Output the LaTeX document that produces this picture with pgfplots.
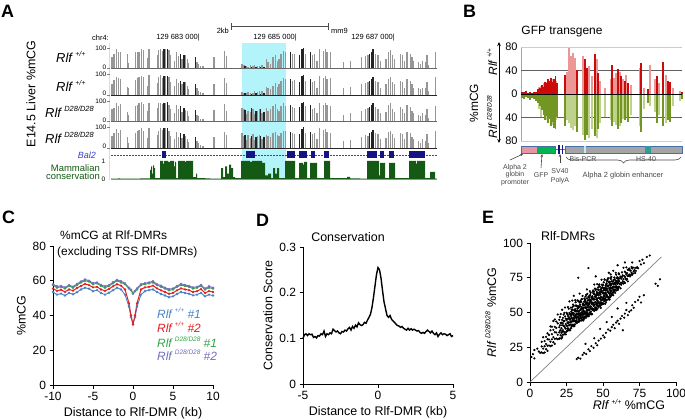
\documentclass[border=0pt]{standalone}
\usepackage{fontspec}
\setmainfont{Liberation Sans}
\usepackage{pgfplots}
\pgfplotsset{compat=1.18}
\usepackage{pgfplotstable}
\usetikzlibrary{arrows.meta,decorations.pathreplacing}
\pgfplotsset{/pgf/number format/assume math mode=true}
\definecolor{hl}{RGB}{178,244,250}
\definecolor{bargray}{RGB}{150,150,150}
\definecolor{bardark}{RGB}{35,35,35}
\definecolor{consgreen}{RGB}{20,90,20}
\definecolor{genenavy}{RGB}{20,20,130}
\definecolor{geneblue}{RGB}{60,60,200}
\definecolor{dred}{RGB}{205,10,10}
\definecolor{lred}{RGB}{236,150,150}
\definecolor{dolive}{RGB}{115,150,35}
\definecolor{lolive}{RGB}{190,210,140}
\definecolor{cblue}{RGB}{70,130,200}
\definecolor{cred}{RGB}{230,30,30}
\definecolor{cgreen}{RGB}{50,165,70}
\definecolor{cpurple}{RGB}{115,110,190}
\definecolor{outl}{RGB}{70,110,170}
\definecolor{boxpink}{RGB}{230,150,160}
\definecolor{boxgreen}{RGB}{0,180,80}
\definecolor{boxgray}{RGB}{165,165,165}
\definecolor{labgray}{RGB}{70,70,70}
\newcommand{\fs}[1]{\fontsize{#1}{#1}\selectfont}
\newcommand{\rlf}[2]{\textit{Rlf}\,\raisebox{0.45em}{\fs{#2}\textit{#1}}}

% Panel A: methylation tracks (x = position along locus, heights in %)
\pgfplotstableread{
x a b c d
112 54 50 60 55
114 69 72 65 70
116.3 92 85 88 90
118.7 77 80 75 72
120.3 80 75 82 85
127.3 69 40 45 50
128.7 28 35 30 25
135.7 77 70 75 72
137.3 80 82 78 80
139 77 85 90 88
141.3 95 90 92 94
143.7 89 88 85 80
147.3 49 45 50 48
149 92 95 90 93
157.3 62 58 65 60
158.7 89 85 88 80
160.7 92 94 90 95
162.3 85 80 82 88
165.3 92 90 88 95
169 89 85 80 82
170.7 62 60 58 55
174.7 38 45 40 42
176.3 77 75 80 78
178.7 58 55 60 52
182 46 50 45 48
185.3 62 60 55 58
187.3 46 42 48 45
188.7 28 30 25 28
197 31 35 30 33
198.7 23 20 25 22
200.7 12 15 10 12
203 12 10 14 11
214 54 50 55 52
224.7 85 80 82 78
226.7 58 55 52 60
242 23 12 66 70
244 15 8 58 55
246.3 12 10 35 40
248 9 12 51 60
250.7 15 8 43 48
253 12 10 58 65
254.7 15 18 35 38
257.3 11 15 51 55
259.7 12 18 58 60
262 15 20 40 45
266.3 43 40 66 62
268 31 35 51 55
270.7 23 28 58 52
273 54 45 74 70
275.3 62 55 82 78
277.3 34 38 58 60
279 46 50 50 55
281 69 65 72 70
283.7 85 80 88 82
285.3 80 78 75 80
292.7 69 65 70 72
294.7 69 72 65 68
305.3 69 65 72 70
312.7 62 60 58 65
314.7 69 65 62 70
317 38 35 40 42
319.3 95 92 90 94
323.7 85 82 80 85
325.3 92 90 88 90
327 77 75 80 78
330.3 77 80 75 72
343.7 31 35 30 33
350.3 38 40 42 36
361.3 54 50 48 52
365.3 58 55 60 62
368 62 60 65 58
375.3 69 65 70 72
378 62 60 58 65
380.3 38 35 40 42
386 46 50 45 48
388.7 77 75 80 78
390.3 89 85 88 82
392.7 62 60 58 65
394.7 46 50 45 48
400.3 69 65 70 72
402.7 62 60 58 65
404.7 38 35 40 42
407 77 75 80 78
410.3 69 65 70 72
412 54 50 48 52
413.7 38 35 40 42
418.7 31 35 30 33
420.3 23 28 25 22
422.7 38 35 40 42
425.3 31 35 30 33
427 62 60 58 65
428.7 15 20 18 22
435.3 77 85 75 80
}\tabA
\pgfplotstableread{
x a b c d
164 95 92 90 95
167.3 95 90 92 94
180.7 69 65 72 70
184 65 60 62 68
195.3 54 50 55 52
245 10 8 55 60
251.5 8 6 62 58
256 6 9 48 52
260.5 9 7 60 55
264 7 10 45 50
290.3 77 75 80 78
299.3 65 62 68 66
302 92 90 88 92
303.7 98 96 95 100
310.3 77 75 80 78
369.7 69 65 70 72
371.3 77 75 80 78
373 92 88 90 85
}\tabAd
\pgfplotstableread{
x y
111 0.02
118 0.04
120 0.02
140 0.03
150 0.5
151 0.7
152 0.3
153 0.75
154 0.6
155 0.05
160 1.0
163 0.85
164 1.0
168 0.95
170 1.0
174 0.7
175 0.95
176 0.05
178 1.0
185 0.95
186 1.0
193 0.1
196 0.3
197 0.05
205 0.04
210 0.02
221 0.6
223 0.1
225 0.7
227 0.3
229 0.8
231 0.6
233 0.1
235 0.05
241 1.0
250 0.95
252 1.0
262 0.9
265 0.2
268 0.3
271 0.05
273 0.6
275 0.3
277 0.6
279 0.05
285 1.0
295 0.05
299 0.9
303 0.8
304 0.95
307 0.05
310 0.9
317 0.05
324 1.0
330 0.05
347 0.12
350 0.03
360 0.02
367 1.0
379 0.2
380 0.9
385 0.05
389 0.9
395 0.05
409 1.0
416 0.85
417 1.0
425 0.05
430 0.4
435 0.02
437 0.02
}\tabCons

% Panel B
\pgfplotstableread{
x u d
522 4 -6
524 3 -8
526 5 -5
528 2 -7
530 3 -10
532 2 -6
534 4 -9
536 3 -12
538 8 -15
540 10 -20
542 15 -28
543.5 12 -35
545 20 -45
546.5 18 -38
548 25 -50
549.5 22 -42
551 28 -55
552.5 20 -48
554 25 -58
555.5 30 -60
557 18 -40
565 33 -55
577 40 -65
585 60 -78
587 45 -70
595 68 -72
598 35 -60
612 50 -55
618 42 -60
621 30 -50
625 22 -45
628 18 -48
641 52 -65
648 8 -15
657 30 -50
663 55 -55
668 22 -45
670 20 -48
682 3 -8
}\tabBd
\pgfplotstableread{
x u d
539 12 -25
541 14 -40
544 18 -30
547 20 -45
550 15 -35
553 26 -52
556 22 -45
567 38 -45
569 78 -50
571 65 -58
573 70 -62
575 62 -55
583 65 -70
589 48 -75
592 30 -60
597 60 -75
600 22 -50
605 10 -40
611 25 -45
614 28 -48
616 35 -52
620 38 -55
623 25 -42
626 32 -40
631 15 -35
640 45 -55
644 10 -25
650 50 -20
655 25 -30
659 18 -35
666 32 -50
673 10 -20
680 5 -12
}\tabBl

% Panel C
\pgfplotstableread{
x g p r b
-10 57.5 58.0 55.5 53.5
-9.5 56.0 56.8 54.2 52.0
-9 56.5 57.0 54.8 52.6
-8.5 55.5 56.2 53.6 51.5
-8 57.0 57.5 55.0 53.0
-7.5 56.0 56.6 54.3 52.2
-7 57.5 58.2 55.8 53.4
-6.5 59.0 59.6 57.0 55.0
-6 60.0 60.8 58.2 56.0
-5.5 59.5 60.0 57.5 55.4
-5 58.0 58.7 56.2 54.0
-4.5 58.5 59.0 56.5 54.6
-4 57.0 57.6 55.0 53.0
-3.5 56.0 56.8 54.2 52.0
-3 57.0 57.5 55.3 53.1
-2.5 58.5 59.2 56.8 54.5
-2 60.0 60.5 58.0 56.0
-1.5 59.0 59.8 57.2 55.0
-1 58.0 58.5 55.0 52.0
-0.5 55.5 56.0 47.0 45.0
-0.25 54.5 54.8 40.0 39.0
0 53.0 52.5 35.0 35.0
0.25 54.0 54.2 40.0 39.0
0.5 55.0 55.6 47.0 45.0
1 57.5 58.0 55.0 52.0
1.5 58.0 58.6 56.2 54.0
2 58.5 59.0 56.5 54.6
2.5 59.0 59.8 57.2 55.0
3 57.5 58.0 55.6 53.5
3.5 56.5 57.2 54.5 52.4
4 55.5 56.0 53.5 51.5
4.5 54.5 55.2 52.5 50.5
5 55.0 55.5 53.0 51.0
5.5 56.5 57.0 54.5 52.4
6 57.5 58.2 55.6 53.5
6.5 57.0 57.6 55.0 53.0
7 56.5 57.0 54.6 52.5
7.5 55.5 56.2 53.5 51.6
8 56.0 56.5 54.0 52.0
8.5 57.0 57.6 55.2 53.0
9 55.0 55.5 53.0 51.0
9.5 56.0 56.8 54.0 52.0
10 55.5 56.0 53.5 51.5
}\tabC

% Panel D
\pgfplotstableread{
x y
-5.0 0.100
-4.9 0.108
-4.8 0.110
-4.7 0.106
-4.6 0.110
-4.5 0.108
-4.4 0.109
-4.3 0.102
-4.2 0.104
-4.1 0.101
-4.0 0.106
-3.9 0.105
-3.8 0.110
-3.7 0.108
-3.6 0.116
-3.5 0.104
-3.4 0.110
-3.3 0.108
-3.2 0.112
-3.1 0.110
-3.0 0.120
-2.9 0.117
-2.8 0.114
-2.7 0.116
-2.6 0.112
-2.5 0.110
-2.4 0.115
-2.3 0.114
-2.2 0.118
-2.1 0.116
-2.0 0.121
-1.9 0.124
-1.8 0.118
-1.7 0.126
-1.6 0.122
-1.5 0.129
-1.4 0.125
-1.3 0.134
-1.2 0.130
-1.1 0.128
-1.0 0.130
-0.9 0.135
-0.8 0.133
-0.7 0.140
-0.6 0.146
-0.5 0.153
-0.4 0.168
-0.3 0.190
-0.2 0.215
-0.1 0.240
0.0 0.255
0.1 0.250
0.2 0.232
0.3 0.205
0.4 0.180
0.5 0.165
0.6 0.150
0.7 0.146
0.8 0.150
0.9 0.142
1.0 0.138
1.1 0.135
1.2 0.131
1.3 0.128
1.4 0.127
1.5 0.124
1.6 0.126
1.7 0.122
1.8 0.120
1.9 0.118
2.0 0.122
2.1 0.118
2.2 0.121
2.3 0.118
2.4 0.120
2.5 0.118
2.6 0.116
2.7 0.117
2.8 0.113
2.9 0.111
3.0 0.113
3.1 0.111
3.2 0.115
3.3 0.118
3.4 0.115
3.5 0.112
3.6 0.116
3.7 0.111
3.8 0.108
3.9 0.112
4.0 0.104
4.1 0.109
4.2 0.112
4.3 0.108
4.4 0.110
4.5 0.109
4.6 0.106
4.7 0.108
4.8 0.110
4.9 0.104
5.0 0.106
}\tabD

\pgfplotsset{
 trk/.style={anchor=south west, scale only axis, width=326bp, height=21bp,
   xmin=111, xmax=437, ymin=0, ymax=100, hide axis, clip=false},
 panel/.style={anchor=south west, scale only axis, axis x line*=bottom, axis y line*=left,
   axis line style={line width=1bp, black}, tick align=outside, major tick length=3.5bp,
   tick style={black, line width=0.8bp}, tick label style={font=\fs{12}},
   label style={font=\fs{12.5}}, clip=false}
}

\begin{document}
\begin{tikzpicture}[x=1bp,y=1bp]
\useasboundingbox (0,0) rectangle (685,419);

%================ Panel A =================
\fill[hl] (242,239) rectangle (286,376);
\draw[red!20, line width=0.6bp] (109,239) -- (109,376);
\node[anchor=west, inner sep=0, font=\fs{18}\bfseries] at (1,407.5) {A};
% scale bar + coordinates
\node[anchor=east, inner sep=1bp, font=\fs{7.5}] at (230,388) {2kb};
\draw[black!70, line width=0.6bp] (231,393) -- (328,393);
\draw[black!70, line width=0.6bp] (231,389) -- (231,396);
\draw[black!70, line width=0.6bp] (328,389) -- (328,396);
\node[anchor=west, inner sep=1bp, font=\fs{7.5}] at (330,388) {mm9};
\node[anchor=west, inner sep=0, font=\fs{7.5}] at (92,381) {chr4:};
\node[anchor=east, inner sep=0, font=\fs{7.5}] at (200,381) {129 683 000|};
\node[anchor=east, inner sep=0, font=\fs{7.5}] at (297,381) {129 685 000|};
\node[anchor=east, inner sep=0, font=\fs{7.5}] at (395,381) {129 687 000|};
\node[rotate=90, font=\fs{12.5}] at (31,325) {E14.5 Liver \%mCG};
% track labels
\node[anchor=west, inner sep=0, font=\fs{13}] at (56,362) {\rlf{+/+}{7}};
\node[anchor=west, inner sep=0, font=\fs{13}] at (56,333) {\rlf{+/+}{7}};
\node[anchor=west, inner sep=0, font=\fs{13}] at (45,307) {\rlf{D28/D28}{7.5}};
\node[anchor=west, inner sep=0, font=\fs{13}] at (45,281) {\rlf{D28/D28}{7.5}};
% tick labels of tracks
\foreach \b in {350.5,324,297.5,271}{
  \draw[black!50, line width=0.5bp] (107,\b) -- (110,\b);
  \draw[black!50, line width=0.5bp] (107,\b+20.5) -- (110,\b+20.5);
  \node[anchor=east, inner sep=0.5bp, font=\fs{6.5}] at (107,\b+1.5) {0};
  \node[anchor=east, inner sep=0.5bp, font=\fs{6.5}] at (107,\b+20.5) {100};
}
\begin{axis}[trk, at={(111bp,350.5bp)}]
\addplot[ycomb, draw=bargray, line width=1.1bp] table[x=x,y=a] \tabA;
\addplot[ycomb, draw=bardark, line width=1.1bp] table[x=x,y=a] \tabAd;
\end{axis}
\begin{axis}[trk, at={(111bp,324bp)}]
\addplot[ycomb, draw=bargray, line width=1.1bp] table[x=x,y=b] \tabA;
\addplot[ycomb, draw=bardark, line width=1.1bp] table[x=x,y=b] \tabAd;
\end{axis}
\begin{axis}[trk, at={(111bp,297.5bp)}]
\addplot[ycomb, draw=bargray, line width=1.1bp] table[x=x,y=c] \tabA;
\addplot[ycomb, draw=bardark, line width=1.1bp] table[x=x,y=c] \tabAd;
\end{axis}
\begin{axis}[trk, at={(111bp,271bp)}]
\addplot[ycomb, draw=bargray, line width=1.1bp] table[x=x,y=d] \tabA;
\addplot[ycomb, draw=bardark, line width=1.1bp] table[x=x,y=d] \tabAd;
\end{axis}
\draw[black!60, line width=0.8bp] (111,350.5) -- (437,350.5);
\draw[black!85, line width=0.8bp] (111,324) -- (437,324);
\draw[black!60, line width=0.8bp] (111,297.5) -- (437,297.5);
\draw[black!85, line width=0.8bp] (111,271) -- (437,271);
% gene model
\node[anchor=east, inner sep=0, font=\fs{9}\itshape, text=geneblue] at (96,264) {Bal2};
\draw[geneblue, line width=0.6bp, dash pattern=on 2bp off 1bp] (111,264) -- (437,264);
\foreach \s/\e in {162/166,246/255,287/295,299/307,311/315,324/329,367/377,380/384,389/394,409/425}{
  \fill[genenavy] (\s,261) rectangle (\e,268);
}
% conservation
\node[anchor=east, align=right, inner sep=0, font=\fs{9.5}, text=consgreen] at (100,246.5) {Mammalian\\[-1.5bp]conservation};
\node[anchor=east, inner sep=0.5bp, font=\fs{6.5}] at (106,258) {1};
\node[anchor=east, inner sep=0.5bp, font=\fs{6.5}] at (106,240) {0};
\begin{axis}[trk, at={(111bp,240bp)}, height=18bp, ymax=1]
\addplot[fill=consgreen, draw=none, const plot] table[x=x,y=y] \tabCons \closedcycle;
\end{axis}
\draw[green!50!black!60, line width=0.5bp] (111,240) -- (437,240);

%================ Panel B =================
\node[anchor=west, inner sep=0, font=\fs{18}\bfseries] at (463,407.5) {B};
\node[font=\fs{12}] at (562,387) {GFP transgene};
\node[rotate=90, font=\fs{12}] at (474,316) {\%mCG};
\node[rotate=90, font=\fs{12}] at (492,357) {\rlf{+/+}{6.5}};
\node[rotate=90, font=\fs{12}] at (492,302) {\rlf{D28/D28}{6.5}};
\draw[{Stealth[length=4bp,width=3.5bp]}-{Stealth[length=4bp,width=3.5bp]}, line width=0.8bp] (499,276) -- (499,377);
\begin{axis}[at={(521bp,278bp)}, anchor=south west, scale only axis, width=161bp, height=94bp,
  xmin=521, xmax=682, ymin=-80, ymax=80, axis x line=none, axis y line*=left,
  y axis line style={draw=gray!70}, ytick={-80,-40,0,40,80}, yticklabels={80,40,0,40,80},
  major tick length=0pt, tick label style={font=\fs{11}}, clip=false]
\draw[gray!40, line width=0.8bp] (axis cs:521,80) -- (axis cs:682,80);
\draw[gray!40, line width=0.8bp] (axis cs:521,-80) -- (axis cs:682,-80);
\draw[gray!75!black, line width=0.8bp] (axis cs:521,40) -- (axis cs:682,40);
\draw[gray!75!black, line width=0.8bp] (axis cs:521,-40) -- (axis cs:682,-40);
\addplot[ycomb, draw=lred, line width=1.1bp] table[x=x,y=u] \tabBl;
\addplot[ycomb, draw=lolive, line width=1.1bp] table[x=x,y=d] \tabBl;
\addplot[ycomb, draw=dred, line width=1.1bp] table[x=x,y=u] \tabBd;
\addplot[ycomb, draw=dolive, line width=1.1bp] table[x=x,y=d] \tabBd;
\draw[black, line width=0.9bp] (axis cs:521,0) -- (axis cs:682,0);
\end{axis}
% construct
\fill[boxpink] (521,266) rectangle (537,273);
\fill[boxgreen] (537,266) rectangle (555,273);
\fill[boxgray] (565,266) rectangle (682,273);
\draw[outl, line width=0.7bp] (521,266) rectangle (555,273);
\draw[outl, line width=0.7bp] (565,266) rectangle (682,273);
\draw[outl, line width=1bp] (555,269.5) -- (565,269.5);
\fill[genenavy] (558,265) rectangle (559.5,274);
\fill[genenavy] (561.5,265) rectangle (563,274);
\fill[cyan!25] (583.5,266.4) rectangle (585.5,272.6);
\fill[teal!80] (645,266.4) rectangle (650.5,272.6);
\node[font=\fs{7}, text=labgray] at (583,260) {Bis-PCR};
\node[font=\fs{7}, text=labgray] at (646,260) {HS-40};
\draw[labgray, line width=0.6bp, decorate, decoration={brace, mirror, amplitude=6bp}] (566,262) -- (681,262);
\node[font=\fs{7.5}, text=labgray] at (623,243) {Alpha 2 globin enhancer};
\node[font=\fs{7}, text=labgray, align=center, inner sep=0] at (515,244) {Alpha 2\\[0.5bp]globin\\[0.5bp]promoter};
\node[font=\fs{7}, text=labgray, inner sep=0] at (541,244) {GFP};
\node[font=\fs{7}, text=labgray, align=center, inner sep=0] at (560,243) {SV40\\[2bp]PolyA};
\draw[labgray, line width=0.6bp, -{Stealth[length=3bp,width=2.5bp]}] (510,259) -- (523,265);
\draw[labgray, line width=0.6bp, -{Stealth[length=3bp,width=2.5bp]}] (541,251) -- (542,265);
\draw[labgray, line width=0.6bp, -{Stealth[length=3bp,width=2.5bp]}] (560,256) -- (560,265);

%================ Panel C =================
\node[anchor=west, inner sep=0, font=\fs{18}\bfseries] at (2,201.5) {C};
\node[anchor=west, inner sep=0, font=\fs{12}] at (60,184) {\%mCG at Rlf-DMRs};
\node[anchor=west, inner sep=0, font=\fs{12}] at (57,167) {(excluding TSS Rlf-DMRs)};
\begin{axis}[panel, at={(53bp,34bp)}, width=160bp, height=139bp,
  xmin=-10, xmax=10, ymin=0, ymax=80, xtick={-10,-5,0,5,10}, ytick={0,20,40,60,80},
  xlabel={Distance to Rlf-DMR (kb)}, ylabel={\%mCG}]
\addplot[cblue, line width=0.9bp, mark=*, mark size=0.7bp] table[x=x,y=b] \tabC;
\addplot[cgreen, line width=0.9bp, mark=*, mark size=0.7bp] table[x=x,y=g] \tabC;
\addplot[cpurple, line width=0.9bp, mark=*, mark size=0.7bp] table[x=x,y=p] \tabC;
\addplot[cred, line width=1bp, mark=*, mark size=0.6bp] table[x=x,y=r] \tabC;
\end{axis}
\node[anchor=west, inner sep=0, font=\fs{12}, text=cblue] at (157,106) {\rlf{+/+}{6.5} \textit{\#1}};
\node[anchor=west, inner sep=0, font=\fs{12}, text=cred] at (157,92) {\rlf{+/+}{6.5} \textit{\#2}};
\node[anchor=west, inner sep=0, font=\fs{12}, text=cgreen] at (157,77) {\rlf{D28/D28}{6.5} \textit{\#1}};
\node[anchor=west, inner sep=0, font=\fs{12}, text=cpurple] at (157,64) {\rlf{D28/D28}{6.5} \textit{\#2}};

%================ Panel D =================
\node[anchor=west, inner sep=0, font=\fs{18}\bfseries] at (256,199) {D};
\node[font=\fs{12.5}] at (348,182) {Conservation};
\begin{axis}[panel, at={(303bp,35bp)}, width=150bp, height=137bp,
  xmin=-5, xmax=5, ymin=0, ymax=0.3, xtick={-5,0,5}, ytick={0,0.1,0.2,0.3},
  yticklabel style={/pgf/number format/fixed},
  xlabel={Distance to Rlf-DMR (kb)}, ylabel={Conservation Score}]
\addplot[black, line width=1.4bp] table[x=x,y=y] \tabD;
\end{axis}

%================ Panel E =================
\node[anchor=west, inner sep=0, font=\fs{18}\bfseries] at (482,201.5) {E};
\node[font=\fs{12.5}] at (568,183) {Rlf-DMRs};
\begin{axis}[panel, at={(530bp,37bp)}, width=146bp, height=139bp,
  xmin=0, xmax=100, ymin=0, ymax=100, xtick={0,25,50,75,100}, ytick={0,25,50,75,100},
  xlabel={\rlf{+/+}{7}\ \%mCG}, xlabel style={xshift=26bp, yshift=5bp},
  ylabel={\rlf{D28/D28}{7}\ \%mCG}]
\addplot[gray, line width=0.7bp] coordinates {(0,0) (90,90)};
\addplot[only marks, mark=*, mark size=0.9bp, black] coordinates {
(1,18)(2,20)(3,23)(3,17)(5,24)(6,22)(7,21)(12,35)(14,40)(17,45)(22,52)(27,58)(30,62)(33,75)(40,82)(45,76)(57,80)(60,84)(65,86)(70,86)(75,87)(77,88)(80,90)(82,91)
(8,21.3)(8,25.6)(8,28.9)(9,20.8)(9,24.0)(9,32.2)(10,21.2)(10,25.7)(10,29.4)(11,23.6)(11,27.3)(11,32.5)
(12,22.4)(12,26.1)(12,30.8)(13,26.3)(13,30.6)(13,33.9)(14,25.8)(14,29.0)(14,37.2)
(15,26.2)(15,30.7)(15,34.4)(15,39.8)(16,28.6)(16,32.3)(16,37.5)(16,43.9)(17,27.4)(17,31.1)(17,35.8)(17,39.7)
(18,31.3)(18,35.6)(18,38.9)(18,43.5)(19,30.8)(19,34.0)(19,42.2)(19,48.6)(20,31.2)(20,35.7)(20,39.4)(20,44.8)
(21,33.6)(21,37.3)(21,42.5)(21,48.9)(22,32.4)(22,36.1)(22,40.8)(22,44.7)(23,36.3)(23,40.6)(23,43.9)(23,48.5)
(24,35.8)(24,39.0)(24,47.2)(24,53.6)(25,36.2)(25,40.7)(25,44.4)(25,49.8)(26,38.6)(26,42.3)(26,47.5)(26,53.9)
(27,37.4)(27,41.1)(27,45.8)(27,49.7)(28,41.3)(28,45.6)(28,48.9)(28,53.5)(29,40.8)(29,44.0)(29,52.2)(29,58.6)
(30,41.2)(30,45.7)(30,49.4)(30,54.8)(31,43.6)(31,47.3)(31,52.5)(31,58.9)(32,42.4)(32,46.1)(32,50.8)(32,54.7)
(33,46.3)(33,50.6)(33,53.9)(33,58.5)(34,45.8)(34,49.0)(34,57.2)(34,63.6)(35,44.2)(35,48.7)(35,52.4)(35,57.8)
(36,46.6)(36,50.3)(36,55.5)(36,61.9)(37,45.4)(37,49.1)(37,53.8)(37,57.7)(38,49.3)(38,53.6)(38,56.9)(38,61.5)
(39,48.8)(39,52.0)(39,60.2)(39,66.6)(40,47.7)(40,52.2)(40,55.9)(40,61.3)(41,50.1)(41,53.8)(41,59.0)(41,65.4)
(42,48.9)(42,52.6)(42,57.3)(42,61.2)(43,52.8)(43,57.1)(43,60.4)(43,65.0)(44,52.3)(44,55.5)(44,63.7)(44,70.1)
(45,52.7)(45,57.2)(45,60.9)(45,66.3)(46,55.1)(46,58.8)(46,64.0)(46,70.4)(47,53.9)(47,57.6)(47,62.3)(47,66.2)
(48,56.3)(48,60.6)(48,63.9)(48,68.5)(49,55.8)(49,59.0)(49,67.2)(49,73.6)(50,56.2)(50,60.7)(50,64.4)(50,69.8)
(51,58.6)(51,62.3)(51,67.5)(51,73.9)(52,57.4)(52,61.1)(52,65.8)(52,69.7)(53,61.3)(53,65.6)(53,68.9)(53,73.5)
(54,60.8)(54,64.0)(54,72.2)(54,78.6)(55,61.2)(55,65.7)(55,69.4)(55,74.8)(56,63.6)(56,67.3)(56,72.5)
(57,62.4)(57,66.1)(57,70.8)(58,66.3)(58,70.6)(58,73.9)(59,65.8)(59,69.0)(59,77.2)(60,66.2)(60,70.7)(60,74.4)
(61,68.6)(61,72.3)(61,77.5)(62,67.4)(62,71.1)(62,75.8)(63,71.3)(63,75.6)(63,78.9)(64,70.8)(64,74.0)(64,82.2)
(65,71.2)(65,75.7)(65,79.4)(66,73.6)(66,77.3)(66,82.5)(67,72.4)(67,76.1)(67,80.8)(68,77.3)(68,81.6)
(69,76.8)(69,80.0)(70,77.2)(70,81.7)(71,79.6)(72,78.4)(72,82.1)(73,82.3)(74,81.8)(76,84.6)(78,85.5)
(20.5,31.4)(20.5,36.9)(20.5,40.8)(20.5,46.7)(21.5,31.3)(21.5,35.4)(21.5,38.7)(21.5,42.6)
(22.5,34.0)(22.5,37.3)(22.5,42.4)(22.5,46.1)(23.5,34.4)(23.5,39.9)(23.5,43.8)(23.5,49.7)
(24.5,34.3)(24.5,38.4)(24.5,41.7)(24.5,45.6)(25.5,37.0)(25.5,40.3)(25.5,45.4)(25.5,49.1)
(26.5,37.4)(26.5,42.9)(26.5,46.8)(26.5,52.7)(27.5,37.3)(27.5,41.4)(27.5,44.7)(27.5,48.6)
(28.5,40.0)(28.5,43.3)(28.5,48.4)(28.5,52.1)(29.5,40.4)(29.5,45.9)(29.5,49.8)(29.5,55.7)
(30.5,40.3)(30.5,44.4)(30.5,47.7)(30.5,51.6)(31.5,43.0)(31.5,46.3)(31.5,51.4)(31.5,55.1)
(32.5,43.4)(32.5,48.9)(32.5,52.8)(32.5,58.7)(33.5,43.3)(33.5,47.4)(33.5,50.7)(33.5,54.6)
(34.5,46.0)(34.5,49.3)(34.5,54.4)(34.5,58.1)(35.5,44.4)(35.5,49.9)(35.5,53.8)(35.5,59.7)
(36.5,44.3)(36.5,48.4)(36.5,51.7)(36.5,55.6)(37.5,47.0)(37.5,50.3)(37.5,55.4)(37.5,59.1)
(38.5,47.4)(38.5,52.9)(38.5,56.8)(38.5,62.7)(39.5,47.3)(39.5,51.4)(39.5,54.7)(39.5,58.6)
(40.5,48.5)(40.5,51.8)(40.5,56.9)(40.5,60.6)(41.5,48.9)(41.5,54.4)(41.5,58.3)(41.5,64.2)
(42.5,48.8)(42.5,52.9)(42.5,56.2)(42.5,60.1)(43.5,51.5)(43.5,54.8)(43.5,59.9)(43.5,63.6)
(44.5,51.9)(44.5,57.4)(44.5,61.3)(44.5,67.2)(45.5,51.8)(45.5,55.9)(45.5,59.2)(45.5,63.1)
(46.5,54.5)(46.5,57.8)(46.5,62.9)(46.5,66.6)(47.5,54.9)(47.5,60.4)(47.5,64.3)(47.5,70.2)
(48.5,53.3)(48.5,57.4)(48.5,60.7)(48.5,64.6)(49.5,56.0)(49.5,59.3)(49.5,64.4)(49.5,68.1)
(50.5,56.4)(50.5,61.9)(50.5,65.8)(50.5,71.7)(51.5,56.3)(51.5,60.4)(51.5,63.7)(51.5,67.6)
(52.5,59.0)(52.5,62.3)(52.5,67.4)(52.5,71.1)(53.5,59.4)(53.5,64.9)(53.5,68.8)(53.5,74.7)
(54.5,59.3)(54.5,63.4)(54.5,66.7)(54.5,70.6)(55.5,62.0)(55.5,65.3)(55.5,70.4)(55.5,74.1)
(28.25,38.8)(28.25,43.2)(28.25,46.9)(28.25,50.5)(29.25,41.0)(29.25,44.7)(29.25,49.4)(29.25,54.1)
(30.25,40.2)(30.25,43.9)(30.25,47.6)(30.25,51.7)(31.25,43.9)(31.25,48.0)(31.25,50.8)(31.25,57.4)
(32.25,42.8)(32.25,47.2)(32.25,50.9)(32.25,54.5)(33.25,45.0)(33.25,48.7)(33.25,53.4)(33.25,58.1)
(34.25,44.2)(34.25,47.9)(34.25,51.6)(34.25,55.7)(35.25,45.9)(35.25,50.0)(35.25,52.8)(35.25,59.4)
(36.25,44.8)(36.25,49.2)(36.25,52.9)(36.25,56.5)(37.25,47.0)(37.25,50.7)(37.25,55.4)(37.25,60.1)
(38.25,46.2)(38.25,49.9)(38.25,53.6)(38.25,57.7)(39.25,49.9)(39.25,54.0)(39.25,56.8)(39.25,63.4)
(40.25,47.3)(40.25,51.7)(40.25,55.4)(40.25,59.0)(41.25,49.5)(41.25,53.2)(41.25,57.9)(41.25,62.6)
(42.25,48.7)(42.25,52.4)(42.25,56.1)(42.25,60.2)(43.25,52.4)(43.25,56.5)(43.25,59.3)(43.25,65.9)
(44.25,51.3)(44.25,55.7)(44.25,59.4)(44.25,63.0)(45.25,53.5)(45.25,57.2)(45.25,61.9)(45.25,66.6)
(46.25,52.7)(46.25,56.4)(46.25,60.1)(46.25,64.2)(47.25,56.4)(47.25,60.5)(47.25,63.3)(47.25,69.9)
(48.25,54.8)(48.25,59.2)(48.25,62.9)(48.25,66.5)(49.25,57.0)(49.25,60.7)(49.25,65.4)(49.25,70.1)
(50.25,56.2)(50.25,59.9)(50.25,63.6)(50.25,67.7)(51.25,59.9)(51.25,64.0)(51.25,66.8)(51.25,73.4)
(52.25,58.8)(52.25,63.2)(52.25,66.9)(52.25,70.5)(53.25,61.0)(53.25,64.7)(53.25,69.4)(53.25,74.1)
(54.25,60.2)(54.25,63.9)(54.25,67.6)(54.25,71.7)(55.25,63.9)(55.25,68.0)(55.25,70.8)(55.25,77.4)
(56.25,62.8)(56.25,67.2)(56.25,70.9)(57.25,65.0)(57.25,68.7)(57.25,73.4)(58.25,64.2)(58.25,67.9)(58.25,71.6)
(59.25,67.9)(59.25,72.0)(59.25,74.8)(60.25,66.8)(60.25,71.2)(60.25,74.9)
(25.75,38.4)(25.75,42.9)(25.75,48.6)(26.75,37.1)(26.75,40.7)(26.75,45.3)(27.75,38.5)(27.75,43.3)(27.75,48.2)
(28.75,41.4)(28.75,45.9)(28.75,51.6)(29.75,40.1)(29.75,43.7)(29.75,48.3)(30.75,41.5)(30.75,46.3)(30.75,51.2)
(31.75,44.4)(31.75,48.9)(31.75,54.6)(32.75,43.1)(32.75,46.7)(32.75,51.3)(33.75,44.5)(33.75,49.3)(33.75,54.2)
(34.75,47.4)(34.75,51.9)(34.75,57.6)(35.75,44.6)(35.75,48.2)(35.75,52.8)(36.75,46.0)(36.75,50.8)(36.75,55.7)
(37.75,48.9)(37.75,53.4)(37.75,59.1)(38.75,47.6)(38.75,51.2)(38.75,55.8)(39.75,49.0)(39.75,53.8)(39.75,58.7)
(40.75,51.9)(40.75,56.4)(40.75,62.1)(41.75,50.6)(41.75,54.2)(41.75,58.8)(42.75,52.0)(42.75,56.8)(42.75,61.7)
(43.75,54.9)(43.75,59.4)(43.75,65.1)(44.75,53.6)(44.75,57.2)(44.75,61.8)(45.75,55.0)(45.75,59.8)(45.75,64.7)
(46.75,57.9)(46.75,62.4)(46.75,68.1)(47.75,56.6)(47.75,60.2)(47.75,64.8)(48.75,56.5)(48.75,61.3)(48.75,66.2)
(49.75,59.4)(49.75,63.9)(49.75,69.6)(50.75,58.1)(50.75,61.7)(50.75,66.3)(51.75,59.5)(51.75,64.3)(51.75,69.2)
(52.75,62.4)(52.75,66.9)(52.75,72.6)(53.75,61.1)(53.75,64.7)(53.75,69.3)(54.75,62.5)(54.75,67.3)(54.75,72.2)
(55.75,65.4)(55.75,69.9)(55.75,75.6)(56.75,64.1)(56.75,67.7)(56.75,72.3)(57.75,65.5)(57.75,70.3)(57.75,75.2)
(58.75,68.4)(58.75,72.9)(58.75,78.6)(59.75,67.1)(59.75,70.7)(59.75,75.3)(60.75,68.5)(60.75,73.3)(60.75,78.2)
(56.5,64.0)(56.5,68.3)(57.5,66.5)(57.5,70.7)(58.5,66.0)(58.5,70.3)(59.5,68.5)(59.5,72.7)(60.5,68.0)(60.5,72.3)
(61.5,70.5)(61.5,74.7)(62.5,70.0)(62.5,74.3)(63.5,72.5)(63.5,76.7)(64.5,72.0)(64.5,76.3)(65.5,74.5)(65.5,78.7)
(66.5,74.0)(66.5,78.3)(67.5,76.5)(67.5,80.7)(68.5,76.0)(68.5,80.3)(69.5,78.5)(69.5,82.7)(70.5,78.0)(70.5,82.3)
(71.5,80.5)(72.5,80.0)(73.5,82.5)
(32,16.5)(33,17.5)(34.5,16.8)(36,19.5)(37,21)(38.5,20.2)(40,23.5)(41,22.2)(42,25.8)(43.5,24.6)
(45,27.9)(46,26.4)(47,29.8)(48.5,31.2)(50,33.5)(51,32.1)(52,35.4)(53.5,37.8)(55,36.9)(56,39.5)
(57,41.2)(58,38.7)(59,42.8)(60,44.1)(61,41.9)(62,45.6)(63,47.5)(63.6,37.2)(64.5,46.3)(65,49.2)
(66,51.8)(67,48.1)(68,50.6)(69.3,51.6)(70,55.2)(71,53.4)(72,57.6)(74,58.9)(75,61.3)(76,57.2)
(78,62.4)(86,70.7)(87.5,69.2)(89,73.9)(52.5,43.1)(56,46.8)(60,52.9)(48,38.2)(44,31.5)(38,27.4)(66,56.9)
};
\end{axis}
\end{tikzpicture}
\end{document}
